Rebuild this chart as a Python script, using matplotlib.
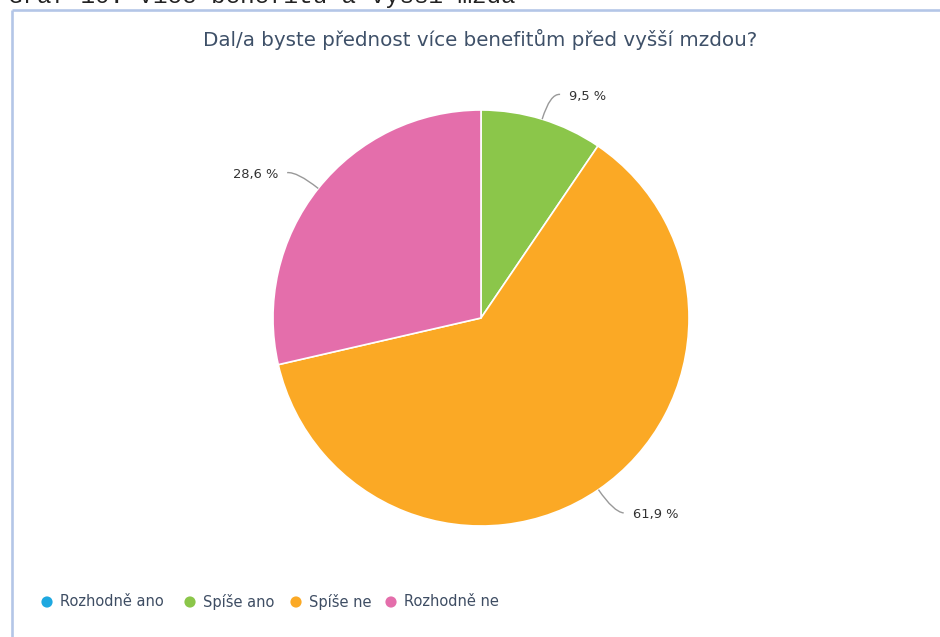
import matplotlib
matplotlib.use("Agg")
import matplotlib.pyplot as plt
import numpy as np
from matplotlib.path import Path
from matplotlib.patches import PathPatch

categories = ["Rozhodně ano", "Spíše ano", "Spíše ne", "Rozhodně ne"]
values = [0.0, 9.5, 61.9, 28.6]
labels = ["0 %", "9,5 %", "61,9 %", "28,6 %"]
colors = ["#1ea8e0", "#8bc64a", "#fba925", "#e46eab"]
title = "Dal/a byste přednost více benefitům před vyšší mzdou?"
caption = "Graf 10: Více benefitů a vyšší mzda"

W, H = 940, 637
fig = plt.figure(figsize=(W / 100, H / 100), dpi=100)
ax = fig.add_axes([0, 0, 1, 1])
ax.set_xlim(0, W)
ax.set_ylim(0, H)
ax.set_aspect("equal")
ax.axis("off")

cx, cy, r = 481, H - 318, 208

# frame borders (top and left)
ax.plot([12, W], [H - 10, H - 10], color="#b4c6e7", lw=1.9, solid_capstyle="butt")
ax.plot([12, 12], [0, H - 10], color="#b4c6e7", lw=1.9, solid_capstyle="butt")

# cropped caption above frame
ax.text(8, H - 3.5, caption, family="Liberation Mono", fontsize=17.5,
        color="#222222", va="baseline", ha="left")

ax.text(480.5, H - 40, title, fontsize=14.3, color="#3e5068", ha="center", va="center")

wedges, _ = ax.pie(values, colors=colors, startangle=90, counterclock=False,
                   center=(cx, cy), radius=r,
                   wedgeprops=dict(edgecolor="white", linewidth=1.2))
ax.set_xlim(0, W)
ax.set_ylim(0, H)

total = sum(values)
start = 90.0
for v, lab in zip(values, labels):
    ang = start - v / total * 360 / 2
    start -= v / total * 360
    if v <= 0:
        continue
    a = np.deg2rad(ang)
    p0 = (cx + r * np.cos(a), cy + r * np.sin(a))
    p1 = (cx + (r + 27) * np.cos(a), cy + (r + 27) * np.sin(a))
    side = 1 if np.cos(a) >= 0 else -1
    p2 = (p1[0] + side * 10, p1[1] - 1)
    path = Path([p0, p1, p2], [Path.MOVETO, Path.CURVE3, Path.CURVE3])
    ax.add_patch(PathPatch(path, fill=False, edgecolor="#999999", lw=1))
    ax.text(p2[0] + side * 9, p2[1] - 2, lab, fontsize=9.4, color="#333333",
            ha="left" if side > 0 else "right", va="center")

# legend
lx = [47, 190, 296, 391]
ly = H - 602
for x, c, name in zip(lx, colors, categories):
    ax.scatter([x], [ly], s=65, color=c, edgecolors="none")
    ax.text(x + 13, ly, name, fontsize=10.5, color="#3e4d63", va="center", ha="left")

fig.savefig("out.png", dpi=100)
